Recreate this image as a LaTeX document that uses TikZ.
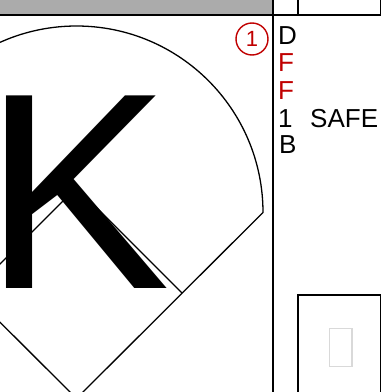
\documentclass[tikz,border=0pt]{standalone}
\usepackage{fontspec}
\setmainfont{Liberation Sans}
\usetikzlibrary{positioning}
\definecolor{scorered}{RGB}{192,0,0}
\definecolor{bargray}{RGB}{171,171,171}
\definecolor{tofugray}{RGB}{217,217,217}

\begin{document}
\begin{tikzpicture}[x=1pt, y=1pt,
  frame/.style={draw=black, line width=1.6pt},
  field/.style={draw=black, line width=1.3pt},
  play/.style={inner sep=0pt, anchor=base west, font=\fontsize{26}{26}\selectfont},
  err/.style={play, text=scorered},
  outmark/.style={circle, draw=scorered, line width=1.4pt, minimum size=32pt,
                  inner sep=0pt, text=scorered, font=\fontsize{22}{22}\selectfont},
  bigmark/.style={inner sep=0pt, anchor=base west, font=\fontsize{280}{280}\selectfont}]

\useasboundingbox (0,0) rectangle (381,392);
\clip (0,0) rectangle (381,392);

% header strip
\fill[bargray] (0,377) rectangle (273,392);
\draw[frame] (0,377) -- (381,377);
\draw[frame] (273,392) -- (273,0);
\draw[frame] (298,392) -- (298,377);
\draw[frame] (380.5,392) -- (380.5,377);

% strikeout
\node[bigmark] (strike) at (-16.5,103) {K};

% diamond
\coordinate (home)   at (76.5,-6.5);
\coordinate (first)  at (182,99);
\coordinate (second) at (76.5,204.5);
\coordinate (third)  at (-29,99);
\coordinate (rfoul)  at (263,179.5);
\coordinate (lfoul)  at (-110,179.5);
\draw[field] (lfoul) -- (home) -- (rfoul) arc[start angle=0, end angle=180, radius=186.5];
\draw[field] (first) -- (second) -- (third);

% outs and plays
\node[outmark] (out) at (252,353) {1};
\node[play] (ball) at (278,347.5) {D};
\node[err]  (foul1) at (278,320) {F};
\node[err]  (foul2) at (278,292.5) {F};
\node[play] (one)  at (278,265) {1};
\node[play] (safe) at (310,265) {SAFE};
\node[play] (base) at (279,238.3) {B};

% pitch count box
\draw[frame] (298,-5) rectangle (380.5,97);
\draw[tofugray, line width=1.5pt] (329.5,25.5) rectangle (352,63.5);
\end{tikzpicture}
\end{document}
